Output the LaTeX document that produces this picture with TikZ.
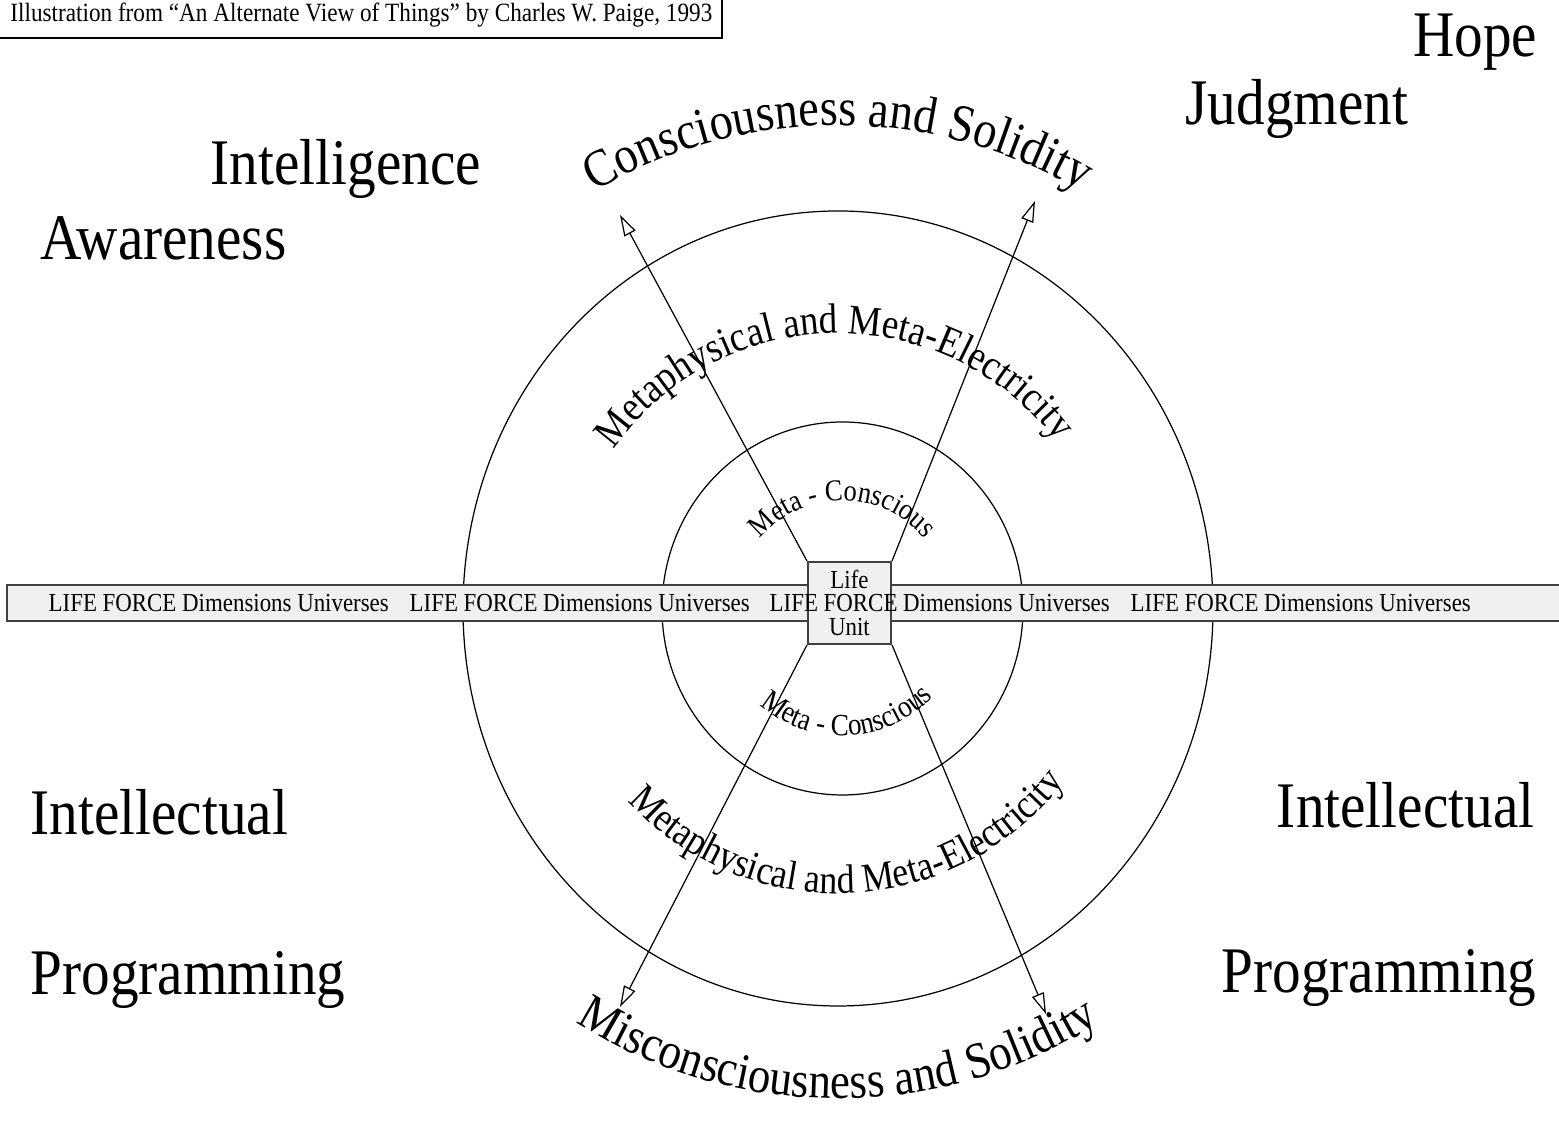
\documentclass[tikz,border=0pt]{standalone}
\usepackage{fontspec}
\setmainfont{Liberation Serif}[FakeStretch=0.88]
\usetikzlibrary{arrows.meta, decorations.text}

\tikzset{
  ring/.style={line width=0.35pt},
  ray/.style={line width=0.35pt, -{Triangle[open, length=6pt, width=3.6pt]}},
  bandbox/.style={draw=black!75, line width=0.6pt, fill=gray!12, inner sep=0pt},
  bandtext/.style={inner sep=0pt, anchor=base west, font=\fontsize{7.4}{9}\selectfont},
  bigword/.style={inner sep=0pt, font=\fontsize{18.5}{22}\selectfont},
  arctext/.style args={#1/#2}{decorate, decoration={text along path, text align=center,
      text={|\fontsize{#1}{#1}\selectfont|#2}}}
}

\begin{document}
\begin{tikzpicture}
\useasboundingbox (0,0) rectangle (15.59,11.21);
\coordinate (outerc) at (8.38,5.125);
\coordinate (innerc) at (8.425,5.125);

\draw[ring] (outerc) ellipse [x radius=3.75, y radius=3.975];
\draw[ring] (innerc) ellipse [x radius=1.805, y radius=1.865];

% the band and the unit in its middle
\node[bandbox, minimum width=15.7cm, minimum height=0.36cm, anchor=south west] (band) at (0.06,4.99) {};
\node[bandbox, minimum width=0.83cm, minimum height=0.82cm, align=center,
      font=\fontsize{7.4}{9}\selectfont] (lifeunit) at (8.495,5.18) {Life\\[4.6pt]Unit};
\foreach \x [count=\i] in {0.48,4.09,7.69,11.30}
  \node[bandtext] (lf\i) at (\x,5.09) {LIFE FORCE Dimensions Universes};

\coordinate (tipnw) at (6.20,9.06);
\coordinate (tipne) at (10.35,9.20);
\coordinate (tipsw) at (6.20,1.14);
\coordinate (tipse) at (10.46,1.07);
\draw[ray] (lifeunit.north west) -- (tipnw);
\draw[ray] (lifeunit.north east) -- (tipne);
\draw[ray] (lifeunit.south west) -- (tipsw);
\draw[ray] (lifeunit.south east) -- (tipse);

% curved texts
\path[arctext=15/Consciousness and Solidity]
  ([shift={(160:4.83)}]outerc) arc[start angle=160, end angle=20, radius=4.83cm];
\path[arctext=12/Metaphysical and Meta-Electricity]
  ([shift={(170:2.75)}]outerc) arc[start angle=170, end angle=12, radius=2.75cm];
\path[arctext=8.6/Meta - Conscious]
  ([shift={(180:1.08)}]innerc) arc[start angle=180, end angle=0, radius=1.08cm];
\path[arctext=8.8/Meta - Conscious]
  ([shift={(190:1.27)}]innerc) arc[start angle=190, end angle=355, radius=1.27cm];
\path[arctext=11.6/Metaphysical and Meta-Electricity]
  ([shift={(190:2.85)}]outerc) arc[start angle=190, end angle=355, radius=2.85cm];
\path[arctext=14.5/Misconsciousness and Solidity]
  ([shift={(200:4.9)}]outerc) arc[start angle=200, end angle=340, radius=4.9cm];

\node[bigword, anchor=base east] (hope) at (15.38,10.64) {Hope};
\node[bigword, anchor=base west] (judgment) at (11.85,9.96) {Judgment};
\node[bigword, anchor=base west] (intelligence) at (2.10,9.36) {Intelligence};
\node[bigword, anchor=base west] (awareness) at (0.40,8.61) {Awareness};
\node[bigword, anchor=base west] (intellectl) at (0.30,2.86) {Intellectual};
\node[bigword, anchor=base west] (programl) at (0.30,1.26) {Programming};
\node[bigword, anchor=base east] (intellectr) at (15.35,2.93) {Intellectual};
\node[bigword, anchor=base east] (programr) at (15.37,1.28) {Programming};

\node[inner sep=0pt, anchor=base east, font=\fontsize{7.5}{9}\selectfont] (caption)
  at (7.13,10.99) {Illustration from ``An Alternate View of Things'' by Charles W. Paige, 1993};
\draw[line width=0.6pt] (-0.1,10.83) -| (7.22,11.3);
\end{tikzpicture}
\end{document}
